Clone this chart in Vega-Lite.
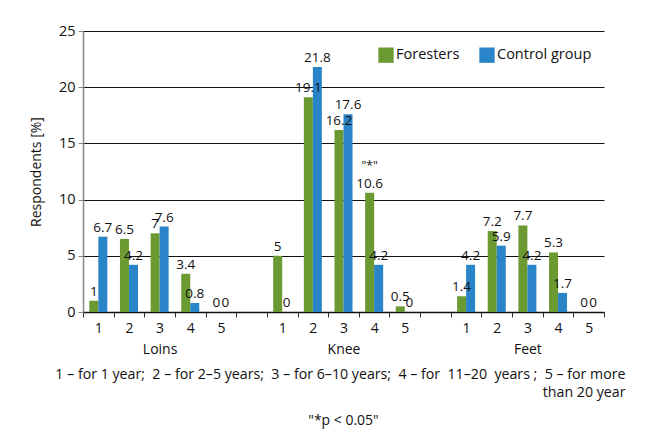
{
  "$schema": "https://vega.github.io/schema/vega-lite/v6.json",
  "width": 521,
  "height": 281,
  "autosize": "none",
  "padding": {"left": 83, "top": 31, "right": 46, "bottom": 123},
  "background": "white",
  "config": {
    "font": "Open Sans",
    "view": {"stroke": null},
    "axis": {"labelFont": "Open Sans", "titleFont": "Open Sans", "labelColor": "#111", "titleColor": "#111"}
  },
  "title": {
    "text": "\"*p < 0.05\"",
    "orient": "bottom",
    "anchor": "middle",
    "fontSize": 14,
    "fontWeight": "normal",
    "font": "Open Sans",
    "color": "#111",
    "offset": 15
  },
  "data": {
    "values": [
      {"slot": "L1", "group": "Foresters", "value": 1},
      {"slot": "L1", "group": "Control group", "value": 6.7},
      {"slot": "L2", "group": "Foresters", "value": 6.5},
      {"slot": "L2", "group": "Control group", "value": 4.2},
      {"slot": "L3", "group": "Foresters", "value": 7},
      {"slot": "L3", "group": "Control group", "value": 7.6},
      {"slot": "L4", "group": "Foresters", "value": 3.4},
      {"slot": "L4", "group": "Control group", "value": 0.8},
      {"slot": "L5", "group": "Foresters", "value": 0},
      {"slot": "L5", "group": "Control group", "value": 0},
      {"slot": "K1", "group": "Foresters", "value": 5},
      {"slot": "K1", "group": "Control group", "value": 0},
      {"slot": "K2", "group": "Foresters", "value": 19.1},
      {"slot": "K2", "group": "Control group", "value": 21.8},
      {"slot": "K3", "group": "Foresters", "value": 16.2},
      {"slot": "K3", "group": "Control group", "value": 17.6},
      {"slot": "K4", "group": "Foresters", "value": 10.6, "note": "\"*\""},
      {"slot": "K4", "group": "Control group", "value": 4.2},
      {"slot": "K5", "group": "Foresters", "value": 0.5},
      {"slot": "K5", "group": "Control group", "value": 0},
      {"slot": "F1", "group": "Foresters", "value": 1.4},
      {"slot": "F1", "group": "Control group", "value": 4.2},
      {"slot": "F2", "group": "Foresters", "value": 7.2},
      {"slot": "F2", "group": "Control group", "value": 5.9},
      {"slot": "F3", "group": "Foresters", "value": 7.7},
      {"slot": "F3", "group": "Control group", "value": 4.2},
      {"slot": "F4", "group": "Foresters", "value": 5.3},
      {"slot": "F4", "group": "Control group", "value": 1.7},
      {"slot": "F5", "group": "Foresters", "value": 0},
      {"slot": "F5", "group": "Control group", "value": 0}
    ]
  },
  "encoding": {
    "x": {
      "field": "slot",
      "type": "nominal",
      "sort": null,
      "scale": {
        "domain": ["L1","L2","L3","L4","L5","G1","K1","K2","K3","K4","K5","G2","F1","F2","F3","F4","F5"],
        "paddingInner": 0,
        "paddingOuter": 0
      },
      "axis": {
        "title": ["1 – for 1 year;\u00a0 2 – for 2–5 years;\u00a0 3 – for 6–10 years;\u00a0 4 – for\u00a0 11–20\u00a0 years ;\u00a0 5 – for more", "than 20 year"],
        "titleAlign": "right",
        "titleAnchor": "end",
        "titleX": 542,
        "titleFontSize": 14.2,
        "titleFontWeight": "normal",
        "titleLineHeight": 17.5,
        "titlePadding": 11,
        "labelAngle": 0,
        "labelFontSize": 14,
        "labelLineHeight": 21.5,
        "labelPadding": 4,
        "labelExpr": "!isString(datum.value) || substring(datum.value,0,1) == 'G' ? '' : (substring(datum.value,1,2) == '3' ? ['3', substring(datum.value,0,1) == 'L' ? 'Loins' : (substring(datum.value,0,1) == 'K' ? 'Knee' : 'Feet')] : substring(datum.value,1,2))",
        "tickBand": "extent",
        "tickSize": 5,
        "tickColor": "#333",
        "domainColor": "#111",
        "domainWidth": 1.3
      }
    },
    "xOffset": {
      "field": "group",
      "type": "nominal",
      "sort": ["Foresters", "Control group"],
      "scale": {"paddingInner": 0, "paddingOuter": 0.7}
    },
    "y": {
      "field": "value",
      "type": "quantitative",
      "scale": {"domain": [0, 25]},
      "axis": {
        "title": "Respondents [%]",
        "titleFontSize": 14,
        "titleFontWeight": "normal",
        "titlePadding": 15,
        "values": [0, 5, 10, 15, 20, 25],
        "labelFontSize": 14.5,
        "labelPadding": 3,
        "tickSize": 5,
        "tickColor": "#888",
        "domainColor": "#888",
        "domainWidth": 1.5,
        "gridColor": "#111",
        "gridWidth": 1
      }
    }
  },
  "layer": [
    {
      "mark": {"type": "bar", "stroke": null},
      "encoding": {
        "color": {
          "field": "group",
          "type": "nominal",
          "sort": ["Foresters", "Control group"],
          "scale": {"domain": ["Foresters", "Control group"], "range": ["#6b9a33", "#2a84c8"]},
          "legend": {
            "title": null,
            "orient": "none",
            "legendX": 295,
            "legendY": 16,
            "direction": "horizontal",
            "padding": 0,
            "symbolType": "square",
            "symbolSize": 235,
            "symbolStrokeWidth": 0,
            "symbolOpacity": 1,
            "labelFontSize": 14.5,
            "labelFont": "Open Sans",
            "labelColor": "#111",
            "labelOffset": 2,
            "columnPadding": 19
          }
        }
      }
    },
    {
      "mark": {"type": "text", "baseline": "bottom", "dy": -2, "fontSize": 13.5, "color": "#111"},
      "encoding": {
        "text": {"field": "value", "type": "quantitative", "format": "~g"}
      }
    },
    {
      "transform": [{"filter": "datum.note"}],
      "mark": {"type": "text", "baseline": "bottom", "dy": -20, "fontSize": 12, "color": "#111"},
      "encoding": {
        "text": {"field": "note", "type": "nominal"}
      }
    }
  ]
}
